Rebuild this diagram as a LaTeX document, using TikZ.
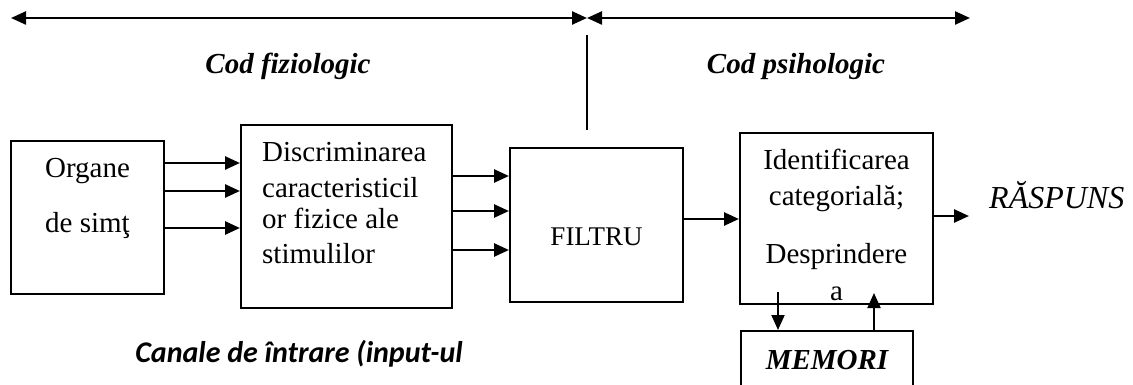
\documentclass[tikz,border=0pt]{standalone}
\usepackage{fontspec}
\setmainfont{Liberation Serif}
\newfontfamily\canalefont{Carlito}
\usetikzlibrary{arrows.meta}

\begin{document}
\begin{tikzpicture}[x=1pt,y=-1pt,
        >={Triangle[length=15pt,width=13pt]},
        box/.style={draw,line width=2pt,inner sep=0pt},
        txt/.style={inner sep=0pt,font=\fontsize{29}{34}\selectfont},
        head/.style={inner sep=0pt,font=\fontsize{29}{34}\selectfont\bfseries\itshape},
        flow/.style={->,line width=2.6pt}]
        \useasboundingbox (0,0) rectangle (1133,385);
        \clip (0,0) rectangle (1133,385);
        % spans at the top
        \coordinate (spanL) at (11,18);
        \coordinate (spanM) at (587,18);
        \coordinate (spanR) at (970,18);
        \draw[<->,line width=2.4pt] (spanL) -- (spanM);
        \draw[<->,line width=2.4pt] (spanM) -- (spanR);
        \coordinate (sepTop) at (587,35);
        \coordinate (sepBot) at (587,130);
        \draw[line width=2pt] (sepTop) -- (sepBot);
        \node[head,anchor=base] (codFiz) at (288,74) {Cod fiziologic};
        \node[head,anchor=base] (codPsi) at (796,74) {Cod psihologic};
        % boxes
        \node[box,minimum width=153pt,minimum height=153pt] (organe) at (87.5,217.5) {};
        \node[box,minimum width=211pt,minimum height=183pt] (disc) at (346.5,216.5) {};
        \node[box,minimum width=173pt,minimum height=154pt] (filtru) at (596.5,225) {};
        \node[box,minimum width=193pt,minimum height=171pt] (ident) at (836.5,218.5) {};
        \node[box,minimum width=172pt,minimum height=69pt] (memori) at (827,365.5) {};
        % texts
        \foreach \t/\yy [count=\i] in {Organe/178, de simţ/233}
            \node[txt,anchor=base] (organe\i) at (87.5,\yy) {\t};
        \foreach \t/\yy [count=\i] in {Discriminarea/161, caracteristicil/197, or fizice ale/228, stimulilor/263}
            \node[txt,anchor=base west] (discLine\i) at (262,\yy) {\t};
        \node[txt,anchor=base,font=\fontsize{27}{32}\selectfont] (filtruLbl) at (596.5,245) {FILTRU};
        \foreach \t/\yy [count=\i] in {Identificarea/170, categorială;/205, Desprindere/263, a/300}
            \node[txt,anchor=base] (identLine\i) at (836.5,\yy) {\t};
        \node[txt,anchor=base west,font=\fontsize{32}{37}\selectfont\itshape] (raspuns) at (989,208) {RĂSPUNS};
        \node[head,anchor=base] (memoriLbl) at (827,369) {MEMORI};
        \node[inner sep=0pt,anchor=base,font=\canalefont\fontsize{30}{35}\selectfont\bfseries\itshape] (canale) at (299,362) {Canale de întrare (input-ul};
        % connectors
        \foreach \yy in {163,191,228}
            \draw[flow] (organe.east |- 0,\yy) -- (disc.west |- 0,\yy);
        \foreach \yy in {176,211,250}
            \draw[flow] (disc.east |- 0,\yy) -- (filtru.west |- 0,\yy);
        \draw[flow] (filtru.east |- 0,219) -- (ident.west |- 0,219);
        \coordinate (raspTip) at (969,216);
        \draw[flow] (ident.east |- raspTip) -- (raspTip);
        \coordinate (memOut) at (778,292);
        \coordinate (memIn) at (874,293);
        \draw[flow,line width=2pt] (memOut) -- (memOut |- memori.north);
        \draw[flow,line width=2pt] (memIn |- memori.north) -- (memIn);
    \end{tikzpicture}
\end{document}
